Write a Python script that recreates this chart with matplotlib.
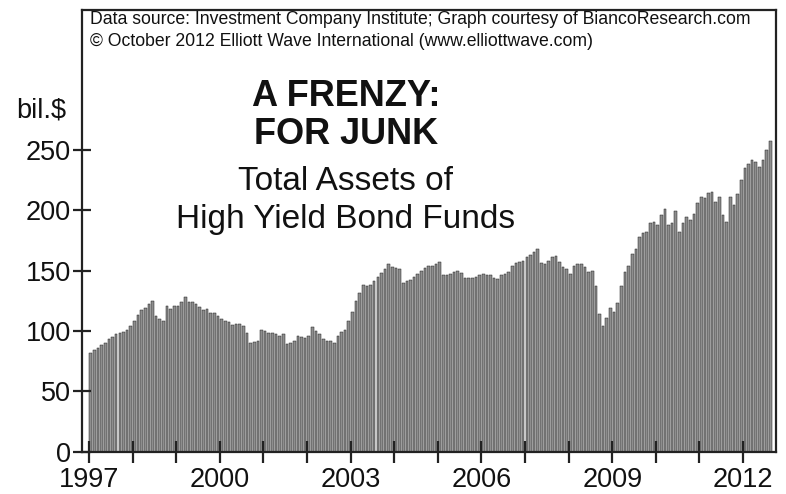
import numpy as np
import matplotlib
matplotlib.use("Agg")
import matplotlib.pyplot as plt

plt.rcParams["font.family"] = ["Liberation Sans", "DejaVu Sans"]

# monthly total assets of high yield bond funds, bil.$, from Jan 1997
assets = [
    82, 84, 86, 88, 90, 93, 95, 97, 98, 99,
    101, 104, 108, 113, 117, 119, 122, 125, 112, 110,
    108, 121, 118, 121, 121, 124, 128, 124, 124, 122,
    120, 117, 118, 115, 115, 112, 110, 108, 107, 105,
    106, 106, 104, 98, 90, 91, 92, 101, 100, 98,
    98, 97, 96, 97, 89, 90, 92, 96, 95, 94,
    96, 103, 100, 97, 93, 92, 92, 90, 96, 99,
    101, 108, 116, 125, 131, 138, 137, 138, 141, 145,
    148, 151, 155, 153, 152, 151, 140, 141, 142, 145,
    147, 150, 152, 154, 154, 155, 157, 146, 146, 147,
    149, 150, 148, 144, 144, 144, 145, 146, 147, 146,
    146, 144, 143, 146, 147, 149, 154, 156, 157, 158,
    161, 163, 165, 168, 156, 155, 158, 161, 162, 157,
    153, 151, 147, 154, 155, 155, 153, 149, 150, 137,
    114, 104, 111, 119, 116, 123, 137, 149, 154, 164,
    168, 178, 181, 182, 189, 190, 188, 196, 201, 188,
    189, 199, 182, 189, 194, 192, 197, 206, 211, 210,
    214, 215, 207, 211, 196, 190, 211, 204, 213, 225,
    235, 238, 242, 240, 236, 242, 250, 257,
]
start_year = 1997
year_ticks = list(range(1997, 2013))
year_labels = [str(y) if (y - 1997) % 3 == 0 else "" for y in year_ticks]
y_ticks = [0, 50, 100, 150, 200, 250]

header = ["Data source: Investment Company Institute; Graph courtesy of BiancoResearch.com",
          "\u00a9 October 2012 Elliott Wave International (www.elliottwave.com)"]
title_lines = ["A FRENZY:", "FOR JUNK"]
sub_lines = ["Total Assets of", "High Yield Bond Funds"]

x = start_year + (np.arange(len(assets)) + 0.5) / 12.0

fig = plt.figure(figsize=(7.86, 4.94), dpi=100)
ax = fig.add_axes([0.1037, 0.086, 0.8838, 0.894])
ax.bar(x, assets, width=0.72 / 12, color="#8e8e8e", edgecolor="#1e1e1e", linewidth=0.35)

ax.set_xlim(1996.83, 2012.76)
ax.set_ylim(0, 366)
ax.set_xticks(year_ticks)
ax.set_xticklabels(year_labels)
ax.set_yticks(y_ticks)
ax.tick_params(axis="both", direction="inout", width=1.6, color="#222222",
               labelsize=19.5, labelcolor="#111111")
ax.tick_params(axis="x", length=16, pad=3)
ax.tick_params(axis="y", length=13, pad=1)
for s in ax.spines.values():
    s.set_linewidth(1.6)
    s.set_color("#222222")

fig.text(0.021, 0.777, "bil.$", fontsize=19.5, ha="left", va="center", color="#111111")
fig.text(0.115, 0.960, header[0], fontsize=12.7, ha="left", va="center", color="#111111")
fig.text(0.115, 0.917, header[1], fontsize=12.7, ha="left", va="center", color="#111111")
fig.text(0.440, 0.804, title_lines[0], fontsize=26, fontweight="bold", ha="center", va="center", color="#111111")
fig.text(0.440, 0.727, title_lines[1], fontsize=26, fontweight="bold", ha="center", va="center", color="#111111")
fig.text(0.440, 0.632, sub_lines[0], fontsize=24, ha="center", va="center", color="#111111")
fig.text(0.440, 0.555, sub_lines[1], fontsize=24, ha="center", va="center", color="#111111")

plt.savefig("out.png", dpi=100)
plt.close()
